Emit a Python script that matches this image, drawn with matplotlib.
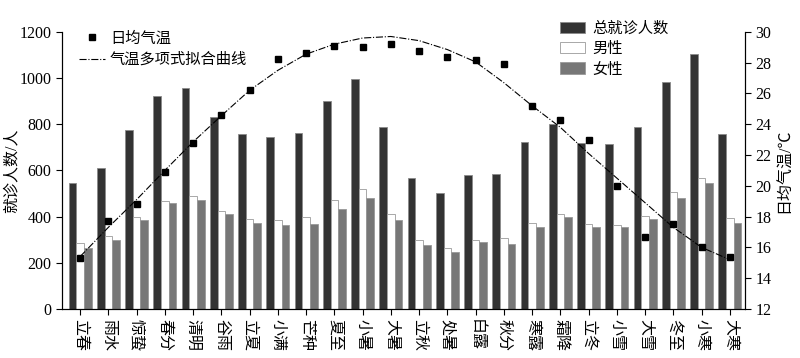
import numpy as np
import matplotlib
matplotlib.use("Agg")
import matplotlib.pyplot as plt

plt.rcParams['font.family'] = ['Liberation Serif', 'Noto Sans CJK SC', 'DejaVu Sans']
plt.rcParams['axes.unicode_minus'] = False

terms = ['立春', '雨水', '惊蛰', '春分', '清明', '谷雨', '立夏', '小满', '芒种', '夏至', '小暑', '大暑',
         '立秋', '处暑', '白露', '秋分', '寒露', '霜降', '立冬', '小雪', '大雪', '冬至', '小寒', '大寒']
total = [544, 609, 775, 922, 955, 830, 758, 745, 760, 900, 996, 789,
         565, 503, 580, 583, 721, 800, 717, 713, 786, 982, 1103, 757]
male = [284, 317, 397, 466, 488, 423, 388, 385, 397, 470, 518, 410,
        297, 263, 297, 306, 371, 411, 367, 362, 401, 505, 566, 393]
female = [264, 297, 385, 459, 473, 411, 372, 364, 368, 434, 480, 384,
          276, 247, 289, 281, 355, 398, 356, 354, 391, 480, 544, 372]
temp = [15.3, 17.7, 18.8, 20.9, 22.8, 24.6, 26.2, 28.25, 28.6, 29.1, 29.0, 29.2,
        28.75, 28.35, 28.2, 27.9, 25.2, 24.3, 23.0, 20.0, 16.7, 17.5, 16.05, 15.35]
# fitted curve values read at each solar term
fit = [15.4, 17.3, 19.1, 21.0, 22.85, 24.55, 26.2, 27.5, 28.55, 29.2, 29.6, 29.7,
       29.43, 28.85, 28.05, 26.7, 25.2, 23.8, 22.1, 20.5, 18.9, 17.3, 16.0, 15.2]

x = np.arange(len(terms))
w = 0.27

fig, ax = plt.subplots(figsize=(8, 3.58), dpi=100)
fig.subplots_adjust(left=0.0775, right=0.931, bottom=0.137, top=0.911)

b1 = ax.bar(x - w, total, w, color='#333333', edgecolor='#8a8a8a', linewidth=0.6, label='总就诊人数')
b2 = ax.bar(x, male, w, color='white', edgecolor='#9a9a9a', linewidth=0.6, label='男性')
b3 = ax.bar(x + w, female, w, color='#777777', edgecolor='#999999', linewidth=0.6, label='女性')

ax.set_xlim(-0.64, 23.53)
ax.set_ylim(0, 1200)
ax.set_yticks([0, 200, 400, 600, 800, 1000, 1200])
ax.set_xticks(x)
ax.set_xticklabels(terms, rotation=270, fontsize=11.5)
ax.set_ylabel('就诊人数/人', fontsize=11.5, labelpad=0)
ax.tick_params(axis='both', labelsize=11.5, direction='out', length=4)
ax.spines['top'].set_visible(False)

ax2 = ax.twinx()
ax2.set_ylim(12, 30)
ax2.set_yticks(range(12, 31, 2))
sc, = ax2.plot(x, temp, 's', color='black', markersize=5, label='日均气温')
ln, = ax2.plot(x, fit, color='black', linestyle='-.', linewidth=0.8, label='气温多项式拟合曲线')
ax2.set_ylabel('日均气温/℃', fontsize=11.5, rotation=90, labelpad=4)
ax2.tick_params(axis='y', labelsize=11.5, direction='out', length=4)
ax2.spines['top'].set_visible(False)

leg1 = ax2.legend(handles=[sc, ln], loc='upper left', bbox_to_anchor=(0.012, 1.035), frameon=False,
                  fontsize=11, handlelength=1.7, handletextpad=0.3, labelspacing=0.45,
                  borderaxespad=0.2)
ax2.add_artist(leg1)
ax2.legend(handles=[b1, b2, b3], loc='upper left', bbox_to_anchor=(0.716, 1.07), frameon=False,
           fontsize=11, handlelength=1.65, handleheight=0.75, handletextpad=0.45,
           labelspacing=0.4, borderaxespad=0.2)

fig.savefig('out.png', dpi=100)
